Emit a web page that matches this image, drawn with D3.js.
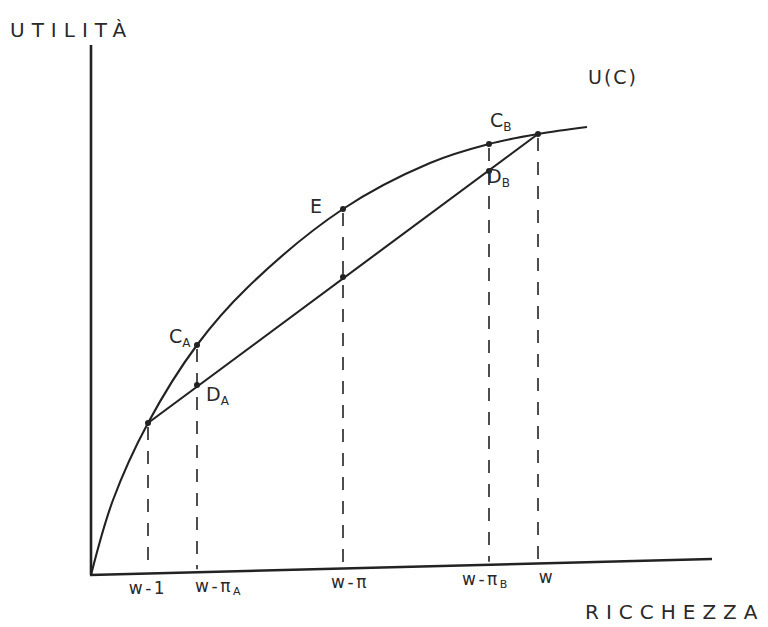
<!DOCTYPE html>
<html>
<head>
<meta charset="utf-8">
<script src="https://cdn.jsdelivr.net/npm/d3@7"></script>
<style>
  html, body { margin: 0; padding: 0; background: #fff; }
  svg { display: block; }
  text { font-family: "DejaVu Sans", sans-serif; fill: #2a2a2a; }
</style>
</head>
<body>
<svg id="chart" width="768" height="627"></svg>
<script>
// ---- data (wealth and utility in arbitrary units) ----
const curveWealth  = [0, 4.4, 11.4, 21.2, 31.2, 50.4, 67.8, 79.6, 89.4, 99.2];
const curveUtility = [0, 15, 30.4, 46, 57.4, 73.2, 82.4, 86.2, 88.2, 89.6];

const tickLabels = ["w-1", "w-πA", "w-π", "w-πB", "w"];
const tickWealth = [11.4, 21.2, 50.4, 79.6, 89.4];
const curveAtTick = [30.4, 46, 73.2, 86.2, 88.2];      // u(c) at each tick
const chordAtTick = [30.4, 38, 59.6, 80.8, 88.2];      // chord (expected utility) at each tick

const pointLabels = [
  {name: "C", sub: "A", tick: 1, on: "curve"},
  {name: "D", sub: "A", tick: 1, on: "chord"},
  {name: "E", sub: "",  tick: 2, on: "curve"},
  {name: "C", sub: "B", tick: 3, on: "curve"},
  {name: "D", sub: "B", tick: 3, on: "chord"}
];

// ---- drawing ----
const svg = d3.select("#chart");
const x = d3.scaleLinear().domain([0, 100]).range([91, 591]);
const y = d3.scaleLinear().domain([0, 100]).range([575, 75]);

// hand-drawn x axis has a slight upward tilt
const axisEndX = 712, axisTilt = 16 / 621;
const axisY = px => y(0) - (px - x(0)) * axisTilt;

const ink = "#222";

// axes
svg.append("line").attr("x1", x(0)).attr("y1", 45).attr("x2", x(0)).attr("y2", y(0))
  .attr("stroke", ink).attr("stroke-width", 2.6);
svg.append("line").attr("x1", x(0) - 1).attr("y1", y(0)).attr("x2", axisEndX).attr("y2", axisY(axisEndX))
  .attr("stroke", ink).attr("stroke-width", 2.6);

// dashed verticals
tickWealth.forEach((w, i) => {
  svg.append("line")
    .attr("x1", x(w)).attr("x2", x(w))
    .attr("y1", y(curveAtTick[i]) + 4).attr("y2", axisY(x(w)) - 3)
    .attr("stroke", ink).attr("stroke-width", 1.6)
    .attr("stroke-dasharray", "13,11");
});

// utility curve
const curveData = curveWealth.map((w, i) => [w, curveUtility[i]]);
svg.append("path")
  .datum(curveData)
  .attr("d", d3.line().x(d => x(d[0])).y(d => y(d[1])).curve(d3.curveCatmullRom.alpha(0.5)))
  .attr("fill", "none").attr("stroke", ink).attr("stroke-width", 2.1);

// chord
const chordData = tickWealth.map((w, i) => [w, chordAtTick[i]]);
svg.append("path")
  .datum([chordData[0], chordData[chordData.length - 1]])
  .attr("d", d3.line().x(d => x(d[0])).y(d => y(d[1])))
  .attr("fill", "none").attr("stroke", ink).attr("stroke-width", 2.1);

// points
const pts = [];
tickWealth.forEach((w, i) => {
  pts.push([w, curveAtTick[i]]);
  if (chordAtTick[i] !== curveAtTick[i]) pts.push([w, chordAtTick[i]]);
});
svg.selectAll("circle.pt").data(pts).join("circle")
  .attr("class", "pt")
  .attr("cx", d => x(d[0])).attr("cy", d => y(d[1])).attr("r", 3)
  .attr("fill", ink);

// point labels
const labelOffset = {
  "CA": [-28, -2], "DA": [9, 16], "E": [-33, 4], "CB": [1, -17], "DB": [-2, 12]
};
pointLabels.forEach(p => {
  const val = p.on === "curve" ? curveAtTick[p.tick] : chordAtTick[p.tick];
  const off = labelOffset[p.name + p.sub];
  const t = svg.append("text")
    .attr("x", x(tickWealth[p.tick]) + off[0])
    .attr("y", y(val) + off[1])
    .attr("font-size", 19);
  t.append("tspan").text(p.name);
  if (p.sub) t.append("tspan").attr("font-size", 12).attr("dy", 4).text(p.sub);
});

// tick labels
const tickDx = [0, 22, 7, -3, 9];
tickLabels.forEach((lab, i) => {
  const px = x(tickWealth[i]) + tickDx[i];
  const t = svg.append("text")
    .attr("x", px).attr("y", axisY(px) + 20)
    .attr("text-anchor", "middle")
    .attr("font-size", 17)
    .attr("letter-spacing", 2.5);
  if (lab.endsWith("A") || lab.endsWith("B")) {
    t.append("tspan").text(lab.slice(0, -1));
    t.append("tspan").attr("font-size", 11).attr("dy", 3).text(lab.slice(-1));
  } else {
    t.text(lab);
  }
});

// axis titles and curve label
svg.append("text").attr("x", 10).attr("y", 37).attr("font-size", 20)
  .attr("letter-spacing", 7).text("UTILITÀ");
svg.append("text").attr("x", 588).attr("y", 84).attr("font-size", 19)
  .attr("letter-spacing", 2).text("U(C)");
svg.append("text").attr("x", 585).attr("y", 619).attr("font-size", 20)
  .attr("letter-spacing", 7).text("RICCHEZZA");
</script>
</body>
</html>
